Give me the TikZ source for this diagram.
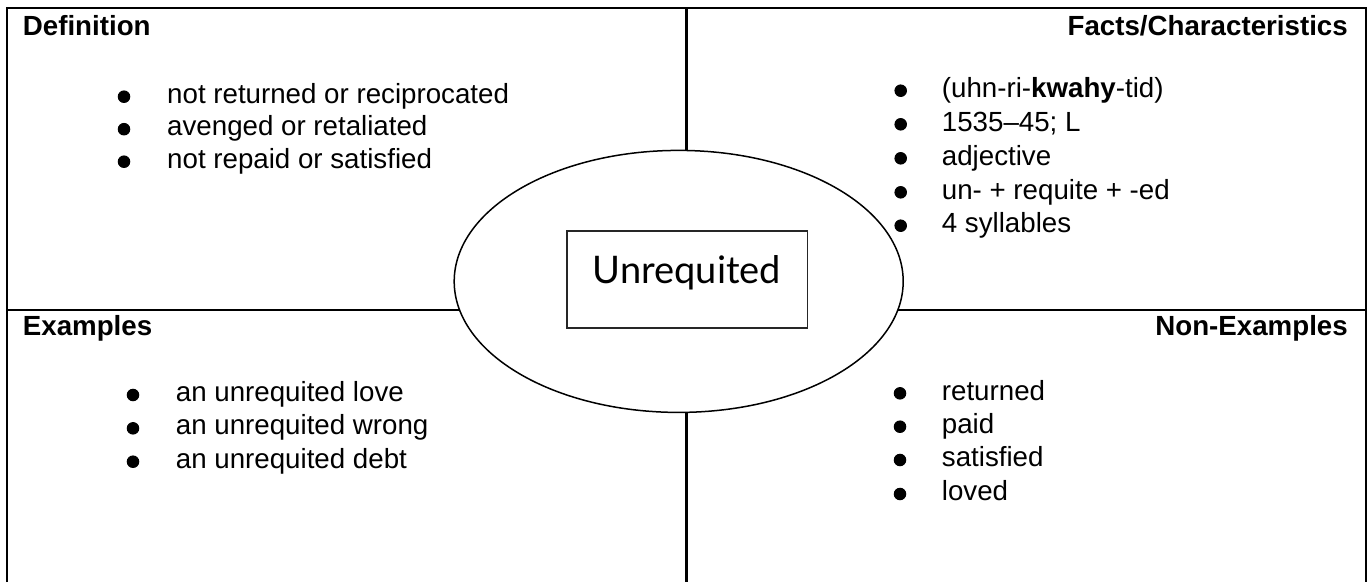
\documentclass[tikz,border=0pt]{standalone}
\usepackage{fontspec}
\setmainfont{Liberation Sans}
\newfontfamily\comicfont{Lato}
\usetikzlibrary{shapes.geometric}
\begin{document}
\begin{tikzpicture}[x=1pt,y=-1pt,
  frame/.style={line width=2.6pt},
  head/.style={inner sep=0pt,font=\fontsize{27.7}{33}\selectfont\bfseries},
  item/.style={inner sep=0pt,anchor=base west,font=\fontsize{27.7}{33}\selectfont},
  dot/.style={circle,fill=black,draw=black,line width=1pt,inner sep=0pt,minimum size=11.5pt}]
\useasboundingbox (0,0) rectangle (1369,582);
% frame and dividers
\draw[frame] (7,582) -- (7,8) -- (1366,8) -- (1366,582);
\draw[frame] (7,310) -- (1366,310);
\draw[frame] (686.7,8) -- (686.7,582);
% central ellipse
\node[ellipse,draw,fill=white,line width=1.5pt,minimum width=449pt,minimum height=262pt,inner sep=0pt] (ell) at (678.7,281.4) {};
\node[draw,line width=1.6pt,draw=black!85,minimum width=240.6pt,minimum height=96.7pt,inner sep=0pt] (box) at (687,279.4) {};
\node[inner sep=0pt,anchor=base,font=\comicfont\fontsize{38}{40}\selectfont] (word) at (687,283) {Unrequited};
% headings
\node[head,anchor=base west] (hdef) at (22.7,35.5) {Definition};
\node[head,anchor=base east] (hfact) at (1348,35.5) {Facts/Characteristics};
\node[head,anchor=base west] (hex) at (22.7,335) {Examples};
\node[head,anchor=base east] (hnon) at (1348,335) {Non-Examples};
% definition
\node[dot] (d1) at (124,96.7) {};
\node[dot] (d2) at (124,129.2) {};
\node[dot] (d3) at (124,161.7) {};
\node[item] (t1) at (167,103) {not returned or reciprocated};
\node[item] (t2) at (167,135.5) {avenged or retaliated};
\node[item] (t3) at (167,168) {not repaid or satisfied};
% facts
\node[dot] (f1) at (900.7,90.7) {};
\node[dot] (f2) at (900.7,124.3) {};
\node[dot] (f3) at (900.7,158.3) {};
\node[dot] (f4) at (900.7,192.3) {};
\node[dot] (f5) at (900.7,225.7) {};
\node[item] (g1) at (941.7,97.5) {(uhn-ri-\textbf{kwahy}-tid)};
\node[item] (g2) at (941.7,131) {1535--45; L};
\node[item] (g3) at (941.7,165) {adjective};
\node[item] (g4) at (941.7,199) {un- + requite + -ed};
\node[item] (g5) at (941.7,232.5) {4 syllables};
% examples
\node[dot] (e1) at (133,395) {};
\node[dot] (e2) at (133,428.3) {};
\node[dot] (e3) at (133,461.7) {};
\node[item] (x1) at (175.7,401.5) {an unrequited love};
\node[item] (x2) at (175.7,434.8) {an unrequited wrong};
\node[item] (x3) at (175.7,468.2) {an unrequited debt};
% non-examples
\node[dot] (n1) at (900,393.3) {};
\node[dot] (n2) at (900,426.7) {};
\node[dot] (n3) at (900,460) {};
\node[dot] (n4) at (900,494) {};
\node[item] (y1) at (941.7,400) {returned};
\node[item] (y2) at (941.7,433.3) {paid};
\node[item] (y3) at (941.7,466.7) {satisfied};
\node[item] (y4) at (941.7,500.5) {loved};
\end{tikzpicture}
\end{document}
